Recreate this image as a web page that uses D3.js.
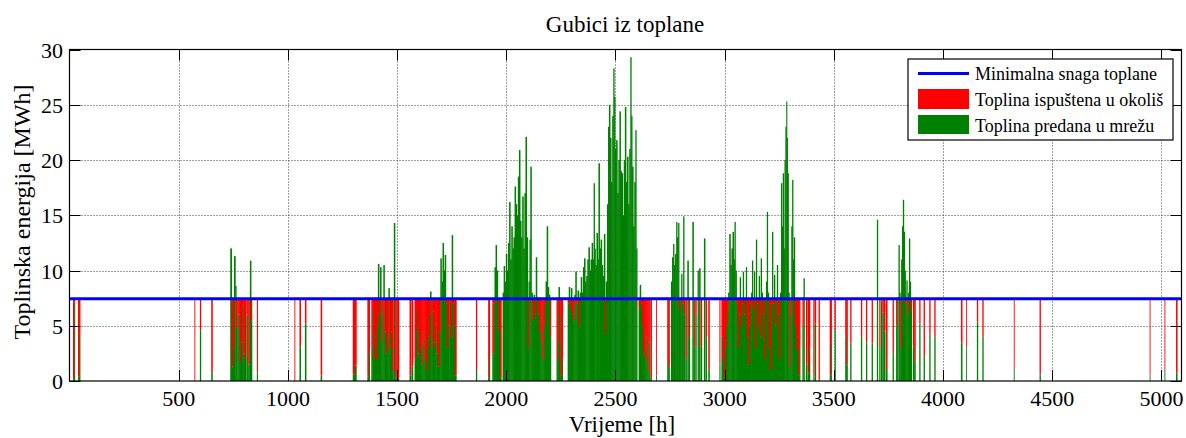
<!DOCTYPE html>
<html><head><meta charset="utf-8">
<script src="https://cdn.jsdelivr.net/npm/d3@7"></script>
<style>body{margin:0;background:#fff} svg{display:block}</style>
</head><body><svg id="c" width="1186" height="438"></svg>
<script>
const chartTitle = "Gubici iz toplane";
const xLabel = "Vrijeme [h]";
const yLabel = "Toplinska energija [MWh]";
const legendLabels = ["Minimalna snaga toplane", "Toplina ispuštena u okoliš", "Toplina predana u mrežu"];
const xTicks = [500, 1000, 1500, 2000, 2500, 3000, 3500, 4000, 4500, 5000];
const yTicks = [0, 5, 10, 15, 20, 25, 30];
const xDomain = [0, 5092];
const yDomain = [0, 30];
const minPower = 7.45;

// operating intervals: start hour, number of hours
const eventStart = [
 16,21,39,44,572,597,649,736,742,748,
 753,759,763,772,778,784,790,796,802,810,
 818,826,831,858,1030,1053,1078,1150,1297,1305,
 1364,1369,1382,1387,1392,1397,1402,1407,1412,1417,
 1422,1427,1432,1437,1442,1448,1454,1460,1465,1471,
 1477,1485,1491,1500,1557,1566,1580,1585,1590,1595,
 1600,1605,1610,1615,1620,1625,1630,1635,1641,1646,
 1651,1656,1662,1668,1674,1680,1686,1692,1698,1703,
 1708,1713,1718,1723,1728,1733,1739,1745,1750,1755,
 1760,1765,1861,1917,1921,1936,1941,1946,1951,1956,
 1961,1966,1971,1983,1988,1993,1998,2003,2008,2013,
 2018,2023,2028,2033,2038,2043,2048,2053,2058,2063,
 2068,2073,2078,2083,2088,2093,2098,2102,2106,2110,
 2115,2120,2125,2130,2135,2140,2145,2150,2155,2160,
 2165,2170,2175,2180,2185,2190,2195,2200,2230,2234,
 2239,2244,2248,2253,2281,2286,2291,2296,2301,2306,
 2311,2316,2321,2326,2331,2336,2341,2346,2351,2356,
 2361,2366,2371,2376,2381,2386,2391,2396,2400,2404,
 2408,2413,2418,2422,2427,2432,2437,2442,2447,2452,
 2456,2461,2466,2470,2475,2480,2485,2490,2494,2498,
 2503,2508,2513,2518,2523,2528,2533,2538,2543,2548,
 2553,2558,2563,2568,2572,2576,2581,2586,2591,2595,
 2606,2611,2616,2621,2626,2631,2636,2641,2646,2654,
 2660,2686,2737,2742,2754,2759,2764,2768,2773,2778,
 2782,2787,2791,2796,2801,2805,2810,2814,2820,2829,
 2836,2852,2860,2866,2876,2883,2891,2905,2913,2925,
 2976,2985,2990,2996,3001,3006,3011,3016,3021,3026,
 3031,3036,3041,3045,3049,3054,3059,3064,3069,3073,
 3078,3083,3087,3092,3097,3101,3106,3111,3116,3121,
 3125,3129,3134,3138,3143,3147,3152,3156,3160,3165,
 3169,3174,3179,3184,3189,3193,3197,3202,3207,3212,
 3217,3221,3226,3230,3235,3239,3243,3248,3253,3258,
 3262,3266,3270,3274,3278,3282,3285,3288,3292,3296,
 3300,3305,3309,3313,3317,3321,3326,3331,3336,3341,
 3356,3361,3372,3380,3386,3406,3413,3430,3481,3486,
 3503,3552,3557,3575,3624,3647,3673,3697,3708,3716,
 3722,3729,3738,3769,3785,3790,3796,3800,3804,3808,
 3812,3816,3820,3824,3828,3832,3836,3840,3844,3848,
 3852,3862,3868,3891,3911,3937,3960,4082,4106,4155,
 4180,4324,4442,4946,5014,5067
];
const eventHours = [
 4,3,5,4,2,4,5,6,6,5,
 6,4,6,6,6,6,6,6,6,5,
 6,5,4,3,2,5,5,5,8,8,
 5,5,5,5,5,5,5,5,5,5,
 5,5,5,5,6,6,6,5,6,6,
 6,5,6,8,6,6,5,5,5,5,
 5,5,5,5,5,5,5,5,5,5,
 5,6,6,6,6,6,6,6,5,5,
 5,5,5,5,5,6,6,5,5,5,
 5,6,4,4,3,5,5,5,5,5,
 5,5,6,5,5,5,5,5,5,5,
 5,5,5,5,5,5,5,5,5,5,
 5,5,5,5,5,5,4,4,4,5,
 5,5,5,5,5,5,5,5,5,5,
 5,5,5,5,5,5,5,4,4,5,
 5,4,5,5,5,5,5,5,5,5,
 5,5,5,5,5,5,5,5,5,5,
 5,5,5,5,5,5,5,4,4,4,
 5,5,4,5,5,5,5,5,5,4,
 5,5,4,5,5,5,5,4,4,5,
 5,5,5,5,5,5,5,5,5,5,
 5,5,5,4,4,5,5,5,4,4,
 5,5,5,5,5,5,5,5,5,4,
 5,2,5,5,5,5,4,5,5,4,
 5,4,5,5,4,5,4,4,5,5,
 4,5,4,4,4,5,4,5,4,5,
 3,5,5,5,5,5,5,5,5,5,
 5,5,4,4,5,5,5,5,4,5,
 5,4,5,5,4,5,5,5,5,4,
 4,5,4,5,4,5,4,4,5,4,
 5,5,5,5,4,4,5,5,5,5,
 4,5,4,5,4,4,5,5,5,4,
 4,4,4,4,4,3,3,4,4,4,
 5,4,4,4,4,5,5,5,5,4,
 4,4,5,5,4,4,4,4,5,3,
 4,5,5,4,4,4,4,4,4,4,
 5,5,6,4,4,4,4,4,4,4,
 4,4,4,4,4,4,4,4,4,4,
 4,5,5,4,4,4,4,5,2,4,
 4,2,4,2,2,5
];
// heat delivered to the network [MWh] (green)
const heatToNetwork = [
 0.2,7.1,0.4,4.3,0,4.6,0.8,12.0,1.3,3.0,
 11.3,8.6,4.8,6.0,1.8,3.5,6.8,2.5,2.0,6.0,
 1.5,10.9,5.5,0.8,0,3.1,5.2,0.5,0.6,1.4,
 0.4,2.5,3.0,6.5,2.0,4.0,2.0,5.0,10.6,6.0,
 10.3,3.5,6.5,10.5,4.5,2.5,4.0,8.4,3.0,4.5,
 1.0,14.3,0.3,0.2,0.5,1.3,2.0,6.5,4.5,2.5,
 5.0,3.0,1.5,3.5,4.5,2.0,3.0,1.0,4.0,6.0,
 8.1,3.0,6.3,3.5,5.0,2.5,1.3,4.5,11.1,9.0,
 12.5,10.0,11.4,7.0,3.0,5.0,7.2,4.0,13.2,7.0,
 5.0,0.5,1.0,0.3,1.9,2.5,7.0,10.3,12.3,10.0,
 4.6,7.5,0.3,8.0,10.4,9.0,11.5,10.0,12.5,16.2,
 11.0,14.0,12.0,13.0,17.6,16.0,15.0,18.5,20.9,14.5,
 13.0,16.7,12.0,17.0,22.1,13.0,3.0,9.0,12.8,19.4,
 8.0,5.5,7.8,6.0,11.2,7.6,6.0,4.5,6.8,3.5,
 2.0,5.0,7.0,9.0,14.0,8.5,7.8,4.0,1.9,3.5,
 8.5,6.0,0.5,2.0,7.0,8.5,6.5,8.4,6.0,5.5,
 7.8,9.9,7.0,8.2,5.0,8.0,9.4,8.0,10.3,11.1,
 9.0,9.5,11.0,12.1,10.0,11.0,12.5,11.0,17.9,12.0,
 10.5,13.4,11.0,19.7,12.0,12.8,10.5,9.5,13.3,4.3,
 9.0,16.0,23.0,25.0,22.0,18.0,24.0,28.3,25.7,21.0,
 21.8,17.0,20.0,24.4,19.0,18.8,15.0,20.0,24.8,18.0,
 20.3,16.0,21.0,29.3,24.0,19.4,14.0,18.0,22.7,12.0,
 6.5,8.7,7.0,5.0,2.5,3.0,2.0,4.0,1.0,3.5,
 0.3,0.5,1.9,1.3,9.0,11.2,12.4,10.5,11.5,14.4,
 13.0,14.3,6.5,7.5,9.7,7.0,14.9,6.0,2.0,10.9,
 4.0,14.4,3.1,6.0,10.0,10.2,3.1,12.9,4.0,1.0,
 1.5,4.0,2.0,0.3,3.0,5.0,6.5,8.0,13.3,10.5,
 12.0,13.5,11.0,14.4,10.0,7.0,3.0,6.0,9.4,5.0,
 7.0,9.9,6.0,7.5,10.3,4.0,1.5,5.0,7.0,8.0,
 10.9,6.5,9.9,3.0,12.8,7.0,5.0,9.5,4.0,11.1,
 8.0,6.0,2.0,7.5,9.0,15.3,8.0,3.0,1.0,7.0,
 13.5,7.0,9.6,5.0,7.5,10.5,6.0,2.0,8.0,17.9,
 14.0,18.8,12.0,20.0,23.0,25.3,22.0,18.8,8.0,1.3,
 6.0,14.0,18.2,11.0,13.0,5.0,2.8,4.0,0.5,3.0,
 5.0,9.3,1.5,0.7,3.0,0.4,5.2,0.1,0.5,3.5,
 4.6,4.0,1.5,3.4,4.0,3.5,3.4,14.6,3.0,7.3,
 6.2,4.5,1.0,2.5,5.0,7.6,12.3,8.0,3.0,11.0,
 14.0,16.4,13.5,10.0,7.0,9.1,6.0,8.0,12.9,9.0,
 6.5,3.1,1.8,5.2,2.2,4.3,4.0,3.5,3.0,5.3,
 4.0,1.2,0.6,0.5,1.0,0.7
];
// heat released to the environment [MWh] (red)
const heatReleased = [
 7.25,0.35,7.05,3.15,7.45,2.85,6.65,0,6.15,4.45,
 0,0,2.65,1.45,5.65,3.95,0.65,4.95,5.45,1.45,
 5.95,0,1.95,6.65,7.45,4.35,2.25,6.95,6.85,6.05,
 7.05,4.95,4.45,0.95,5.45,3.45,5.45,2.45,0,1.45,
 0,3.95,0.95,0,2.95,4.95,3.45,0,4.45,2.95,
 6.45,0,7.15,7.25,6.95,6.15,5.45,0.95,2.95,4.95,
 2.45,4.45,5.95,3.95,2.95,5.45,4.45,6.45,3.45,1.45,
 0,4.45,1.15,3.95,2.45,4.95,6.15,2.95,0,0,
 0,0,0,0.45,4.45,2.45,0.25,3.45,0,0.45,
 2.45,6.95,6.45,7.15,5.55,4.95,0.45,0,0,0,
 2.85,0,7.15,0,0,0,0,0,0,0,
 0,0,0,0,0,0,0,0,0,0,
 0,0,0,0,0,0,4.45,0,0,0,
 0,1.95,0,1.45,0,0,1.45,2.95,0.65,3.95,
 5.45,2.45,0.45,0,0,0,0,3.45,5.55,3.95,
 0,1.45,6.95,5.45,0.45,0,0.95,0,1.45,1.95,
 0,0,0.45,0,2.45,0,0,0,0,0,
 0,0,0,0,0,0,0,0,0,0,
 0,0,0,0,0,0,0,0,0,3.15,
 0,0,0,0,0,0,0,0,0,0,
 0,0,0,0,0,0,0,0,0,0,
 0,0,0,0,0,0,0,0,0,0,
 0.95,0,0.45,2.45,4.95,4.45,5.45,3.45,6.45,3.95,
 7.15,6.95,5.55,6.15,0,0,0,0,0,0,
 0,0,0.95,0,0,0.45,0,1.45,5.45,0,
 3.45,0,4.35,1.45,0,0,4.35,0,3.45,6.45,
 5.95,3.45,5.45,7.15,4.45,2.45,0.95,0,0,0,
 0,0,0,0,0,0.45,4.45,1.45,0,2.45,
 0.45,0,1.45,0,0,3.45,5.95,2.45,0.45,0,
 0,0.95,0,4.45,0,0.45,2.45,0,3.45,0,
 0,1.45,5.45,0,0,0,0,4.45,6.45,0.45,
 0,0.45,0,2.45,0,0,1.45,5.45,0,0,
 0,0,0,0,0,0,0,0,0,6.15,
 1.45,0,0,0,0,2.45,4.65,3.45,6.95,4.45,
 2.45,0,5.95,6.75,4.45,7.05,2.25,7.35,6.95,3.95,
 2.85,3.45,5.95,4.05,3.45,3.95,4.05,0,4.45,0.15,
 1.25,2.95,6.45,4.95,2.45,0,0,0,4.45,0,
 0,0,0,0,0.45,0,1.45,0,0,0,
 0.95,4.35,5.65,2.25,5.25,3.15,3.45,3.95,4.45,2.15,
 3.45,6.25,6.85,6.95,6.45,6.75
];

const svg = d3.select("#c");
const W = 1186, H = 438;
const pL = 69.5, pR = 1181.5, pT = 49.5, pB = 381;
const x = d3.scaleLinear().domain(xDomain).range([pL, pR]);
const y = d3.scaleLinear().domain(yDomain).range([pB, pT]);
const FONT = "'Liberation Serif','Times New Roman',serif";
const EXTRA = 0.45; // slight overlap so adjacent hours render as a continuous mass

const n = Math.min(eventStart.length, eventHours.length, heatToNetwork.length, heatReleased.length);
const events = d3.range(n).map(i => ({
  s: eventStart[i], len: eventHours[i], g: heatToNetwork[i], r: heatReleased[i]
}));

svg.append("rect").attr("width", W).attr("height", H).attr("fill", "#fff");

// grid
const grid = svg.append("g").attr("stroke", "#444").attr("stroke-width", 1).attr("stroke-dasharray", "1,2");
grid.selectAll(".gx").data(xTicks).join("line")
  .attr("x1", d => Math.round(x(d)) + 0.5).attr("x2", d => Math.round(x(d)) + 0.5)
  .attr("y1", pT).attr("y2", pB);
grid.selectAll(".gy").data(yTicks.filter(d => d > 0 && d < 30)).join("line")
  .attr("y1", d => Math.round(y(d)) + 0.5).attr("y2", d => Math.round(y(d)) + 0.5)
  .attr("x1", pL).attr("x2", pR);

// bars
const plot = svg.append("g");
plot.selectAll(".g").data(events.filter(e => e.g > 0)).join("rect")
  .attr("x", e => x(e.s)).attr("width", e => x(e.s + e.len) - x(e.s) + EXTRA)
  .attr("y", e => y(e.g)).attr("height", e => y(0) - y(e.g))
  .attr("fill", "#008000");
plot.selectAll(".r").data(events.filter(e => e.r > 0)).join("rect")
  .attr("x", e => x(e.s)).attr("width", e => x(e.s + e.len) - x(e.s) + EXTRA)
  .attr("y", e => y(e.g + e.r)).attr("height", e => y(e.g) - y(e.g + e.r))
  .attr("fill", "#ff0000");

// minimum power line
svg.append("line")
  .attr("x1", pL).attr("x2", pR)
  .attr("y1", y(minPower)).attr("y2", y(minPower))
  .attr("stroke", "#0000ff").attr("stroke-width", 3);

// frame
svg.append("rect").attr("x", pL).attr("y", pT).attr("width", pR - pL).attr("height", pB - pT)
  .attr("fill", "none").attr("stroke", "#000").attr("stroke-width", 1.2);

// ticks
const tk = svg.append("g").attr("stroke", "#000").attr("stroke-width", 1);
const TL = 11;
xTicks.forEach(t => {
  const xx = Math.round(x(t)) + 0.5;
  tk.append("line").attr("x1", xx).attr("x2", xx).attr("y1", pB).attr("y2", pB - TL);
  tk.append("line").attr("x1", xx).attr("x2", xx).attr("y1", pT).attr("y2", pT + TL);
});
yTicks.forEach(t => {
  const yy = Math.round(y(t)) + 0.5;
  tk.append("line").attr("x1", pL).attr("x2", pL + TL).attr("y1", yy).attr("y2", yy);
  tk.append("line").attr("x1", pR).attr("x2", pR - TL).attr("y1", yy).attr("y2", yy);
});

const txt = svg.append("g").attr("font-family", FONT).attr("fill", "#000");
txt.selectAll(".xl").data(xTicks).join("text")
  .attr("x", d => x(d)).attr("y", 406).attr("text-anchor", "middle")
  .attr("font-size", 22).text(d => d);
txt.selectAll(".yl").data(yTicks).join("text")
  .attr("x", 63).attr("y", d => y(d) + 8).attr("text-anchor", "end")
  .attr("font-size", 22).text(d => d);

txt.append("text").attr("x", 625).attr("y", 32).attr("text-anchor", "middle")
  .attr("font-size", 23).text(chartTitle);
txt.append("text").attr("x", 622).attr("y", 432).attr("text-anchor", "middle")
  .attr("font-size", 23).text(xLabel);
txt.append("text").attr("transform", "translate(30,212) rotate(-90)").attr("text-anchor", "middle")
  .attr("font-size", 24).text(yLabel);

// legend
const lg = svg.append("g");
lg.append("rect").attr("x", 908).attr("y", 59).attr("width", 265).attr("height", 81)
  .attr("fill", "#fff").attr("stroke", "#000").attr("stroke-width", 1.2);
lg.append("line").attr("x1", 918).attr("x2", 969).attr("y1", 73.5).attr("y2", 73.5)
  .attr("stroke", "#0000ff").attr("stroke-width", 3);
lg.append("rect").attr("x", 918).attr("y", 89).attr("width", 51).attr("height", 20).attr("fill", "#ff0000");
lg.append("rect").attr("x", 918).attr("y", 115).attr("width", 51).attr("height", 19).attr("fill", "#008000");
lg.selectAll("text").data(legendLabels).join("text")
  .attr("x", 975).attr("y", (d, i) => 80 + i * 26)
  .attr("font-family", FONT).attr("font-size", 18).text(d => d);
</script></body></html>
